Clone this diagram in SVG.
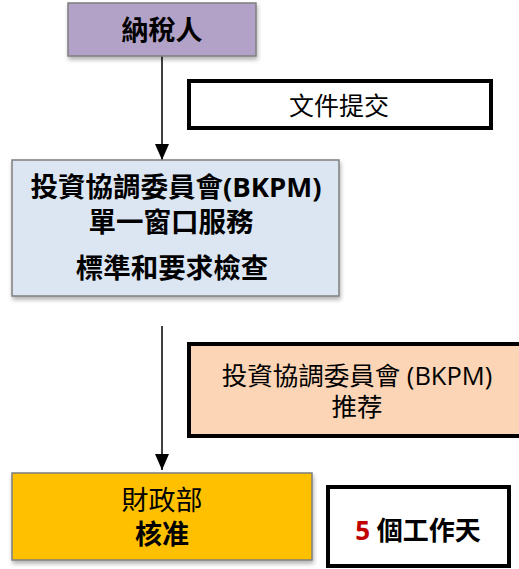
<svg xmlns="http://www.w3.org/2000/svg" width="519" height="569" viewBox="0 0 519 569">
<style>
text{font-family:"Open Sans","Noto Sans CJK TC",sans-serif;text-anchor:middle;fill:#000}
.b{font-weight:bold}
.node{stroke:#7f7f7f;stroke-width:1.5}
.lbl{fill:#fff;stroke:#000;stroke-width:4}
.conn{stroke:#000;stroke-width:1.5;fill:none}
</style>
<defs>
<filter id="sh" x="-10%" y="-10%" width="120%" height="130%">
<feDropShadow dx="1" dy="3" stdDeviation="2" flood-color="#000" flood-opacity="0.3"/>
</filter>
<marker id="arr" markerWidth="16" markerHeight="14" refX="16" refY="7" orient="auto" markerUnits="userSpaceOnUse" viewBox="0 0 16 14">
<path d="M0,0 L16,7 L0,14 Z" fill="#000"/>
</marker>
</defs>
<g id="connectors">
<path class="conn" d="M162,52 V160" marker-end="url(#arr)"/>
<path class="conn" d="M162,326 V470" marker-end="url(#arr)"/>
</g>
<g id="taxpayer">
<rect class="node" x="68" y="3" width="188" height="53" fill="#b2a2c7" filter="url(#sh)"/>
<text class="b" x="162" y="40" font-size="27">納稅人</text>
</g>
<g id="doc-submit">
<rect class="lbl" x="189" y="81" width="302" height="47"/>
<text x="339" y="115" font-size="25">文件提交</text>
</g>
<g id="bkpm">
<rect class="node" x="12" y="160" width="327" height="136" fill="#dce6f2" filter="url(#sh)"/>
<text class="b" x="176" y="197" font-size="27.5">投資協調委員會(BKPM)</text>
<text class="b" x="171" y="232" font-size="27.5">單一窗口服務</text>
<text class="b" x="172" y="278" font-size="27.5">標準和要求檢查</text>
</g>
<g id="bkpm-recommend">
<rect class="lbl" x="189" y="344" width="334" height="92" style="fill:#fbd5b5"/>
<text x="357" y="385" font-size="25.5">投資協調委員會 (BKPM)</text>
<text x="357" y="416" font-size="25.5">推荐</text>
</g>
<g id="mof">
<rect class="node" x="12" y="473" width="300" height="87" fill="#ffc000" filter="url(#sh)"/>
<text x="162" y="510" font-size="27">財政部</text>
<text class="b" x="162" y="544" font-size="27">核准</text>
</g>
<g id="days">
<rect class="lbl" x="328" y="487" width="181" height="79"/>
<text class="b" x="418" y="540" font-size="26"><tspan fill="#c00000">5</tspan> 個工作天</text>
</g>
</svg>
